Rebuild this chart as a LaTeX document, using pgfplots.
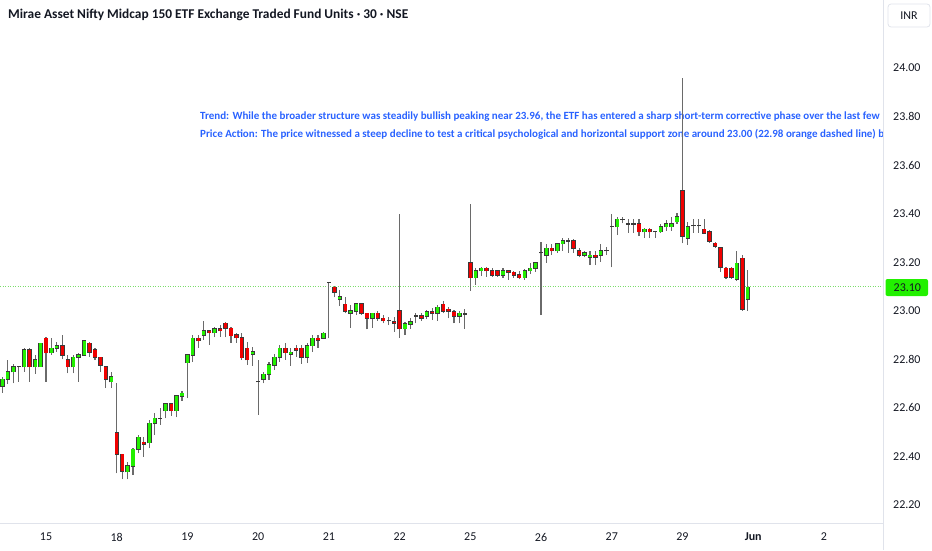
\documentclass[border=0pt]{standalone}
\usepackage{pgfplots}
\pgfplotsset{compat=1.18}
\usepackage{pgfplotstable}
\usepackage{fontspec}
\setmainfont{Carlito}
\definecolor{tvtext}{HTML}{131722}
\definecolor{tvblue}{HTML}{2962FF}
\definecolor{cgreen}{HTML}{22F000}
\definecolor{cred}{HTML}{F00000}
\definecolor{wickc}{HTML}{6A6A6A}
\definecolor{bordc}{HTML}{3A3A3A}
\definecolor{sepc}{HTML}{E0E3EB}
\definecolor{dotg}{HTML}{7CDD6C}
\pgfplotstableread{
k O H L C
-8 22.690 22.729 22.663 22.718
-7 22.718 22.797 22.698 22.749
-6 22.749 22.779 22.701 22.770
-5 22.770 22.773 22.708 22.770
-4 22.770 22.845 22.749 22.838
-3 22.838 22.845 22.708 22.770
-2 22.770 22.818 22.740 22.797
-1 22.770 22.869 22.770 22.866
0 22.886 22.893 22.708 22.827
1 22.827 22.886 22.818 22.845
2 22.845 22.873 22.832 22.856
3 22.856 22.900 22.800 22.818
4 22.797 22.818 22.742 22.770
5 22.770 22.818 22.742 22.808
6 22.808 22.825 22.708 22.818
7 22.818 22.880 22.814 22.877
8 22.866 22.873 22.811 22.829
9 22.838 22.845 22.797 22.808
10 22.808 22.811 22.749 22.777
11 22.770 22.773 22.681 22.718
12 22.708 22.749 22.681 22.729
13 22.498 22.701 22.330 22.409
14 22.409 22.409 22.306 22.340
15 22.337 22.379 22.306 22.361
16 22.361 22.433 22.323 22.429
17 22.429 22.488 22.413 22.479
18 22.458 22.479 22.399 22.451
19 22.457 22.550 22.433 22.536
20 22.536 22.578 22.488 22.557
21 22.557 22.598 22.530 22.557
22 22.589 22.622 22.557 22.616
23 22.616 22.622 22.567 22.589
24 22.589 22.653 22.561 22.649
25 22.649 22.671 22.630 22.660
26 22.787 22.822 22.640 22.818
27 22.818 22.900 22.791 22.887
28 22.887 22.900 22.848 22.877
29 22.900 22.960 22.880 22.918
30 22.918 22.921 22.859 22.910
31 22.910 22.935 22.891 22.927
32 22.927 22.942 22.894 22.918
33 22.948 22.955 22.891 22.928
34 22.928 22.935 22.869 22.898
35 22.900 22.910 22.869 22.889
36 22.889 22.910 22.798 22.807
37 22.846 22.873 22.777 22.798
38 22.822 22.852 22.773 22.832
39 22.708 22.798 22.571 22.708
40 22.718 22.749 22.701 22.739
41 22.739 22.791 22.715 22.777
42 22.777 22.822 22.756 22.808
43 22.808 22.859 22.791 22.846
44 22.846 22.869 22.798 22.828
45 22.821 22.846 22.773 22.829
46 22.846 22.859 22.811 22.839
47 22.846 22.859 22.781 22.808
48 22.808 22.866 22.784 22.857
49 22.857 22.900 22.832 22.887
50 22.887 22.900 22.848 22.880
51 22.887 22.914 22.883 22.907
52 23.116 23.120 22.886 23.116
53 23.096 23.102 23.055 23.078
54 23.047 23.085 23.019 23.057
55 23.026 23.058 22.989 22.999
56 22.989 23.024 22.930 22.999
57 22.999 23.030 22.982 23.028
58 23.028 23.030 22.982 22.989
59 22.989 22.992 22.923 22.969
60 22.969 22.992 22.930 22.989
61 22.989 22.999 22.959 22.969
62 22.969 22.982 22.948 22.959
63 22.959 22.975 22.941 22.959
64 22.955 22.975 22.914 22.948
65 22.999 23.398 22.890 22.927
66 22.927 22.955 22.900 22.945
67 22.945 22.969 22.927 22.955
68 22.978 22.989 22.948 22.978
69 22.978 22.992 22.959 22.969
70 22.978 23.003 22.965 22.996
71 22.996 23.010 22.962 22.989
72 22.989 23.024 22.959 23.014
73 23.026 23.040 22.989 22.999
74 23.006 23.017 22.969 22.999
75 22.996 23.003 22.948 22.978
76 22.978 22.999 22.948 22.989
77 22.987 23.006 22.927 22.987
78 23.198 23.440 23.083 23.137
79 23.137 23.175 23.106 23.165
80 23.165 23.181 23.143 23.175
81 23.175 23.181 23.140 23.165
82 23.165 23.175 23.140 23.147
83 23.165 23.168 23.140 23.147
84 23.147 23.175 23.137 23.165
85 23.165 23.168 23.127 23.158
86 23.158 23.165 23.137 23.147
87 23.147 23.165 23.129 23.137
88 23.137 23.171 23.127 23.165
89 23.165 23.195 23.151 23.175
90 23.175 23.202 23.161 23.198
91 23.239 23.284 22.982 23.239
92 23.229 23.277 23.198 23.257
93 23.257 23.277 23.229 23.247
94 23.247 23.280 23.239 23.277
95 23.277 23.298 23.247 23.287
96 23.287 23.298 23.239 23.287
97 23.287 23.294 23.239 23.257
98 23.247 23.257 23.220 23.229
99 23.229 23.247 23.220 23.239
100 23.220 23.247 23.188 23.229
101 23.229 23.247 23.188 23.220
102 23.229 23.277 23.202 23.247
103 23.247 23.264 23.229 23.247
104 23.347 23.398 23.179 23.347
105 23.347 23.388 23.312 23.377
106 23.377 23.388 23.360 23.377
107 23.358 23.377 23.322 23.358
108 23.358 23.377 23.322 23.358
109 23.358 23.377 23.308 23.326
110 23.326 23.340 23.299 23.336
111 23.336 23.340 23.299 23.326
112 23.326 23.330 23.299 23.326
113 23.326 23.358 23.322 23.347
114 23.347 23.374 23.330 23.358
115 23.347 23.388 23.330 23.358
116 23.367 23.402 23.358 23.388
117 23.495 23.960 23.278 23.308
118 23.299 23.367 23.271 23.347
119 23.350 23.377 23.322 23.350
120 23.350 23.377 23.322 23.350
121 23.336 23.377 23.317 23.319
122 23.326 23.333 23.281 23.288
123 23.278 23.285 23.258 23.267
124 23.258 23.264 23.161 23.179
125 23.175 23.179 23.130 23.138
126 23.175 23.179 23.130 23.138
127 23.130 23.248 23.124 23.196
128 23.216 23.230 23.001 23.006
129 23.047 23.168 23.001 23.097
}\candles
\begin{document}
\begin{tikzpicture}[x=1pt,y=1pt]
\path[use as bounding box] (0,0) rectangle (932,550);
\begin{axis}[
  at={(0pt,27pt)}, anchor=south west,
  width=883pt, height=523pt, scale only axis,
  xmin=-8.456, xmax=153.86, ymin=22.126, ymax=24.280,
  axis line style={draw=none},
  tick style={draw=none},
  major tick length=0pt,
  scaled y ticks=false,
  ytick={22.2,22.4,22.6,22.8,23.0,23.2,23.4,23.6,23.8,24.0},
  yticklabel pos=right,
  /pgf/number format/assume math mode=true,
  yticklabel style={anchor=west, xshift=10pt, inner sep=0pt,
    font=\fontsize{12}{14}\selectfont, text=tvtext,
    /pgf/number format/fixed, /pgf/number format/fixed zerofill,
    /pgf/number format/precision=2},
  xtick={0,13,26,39,52,65,78,91,104,117,130,143},
  xticklabels={15,18,19,20,21,22,25,26,27,29,\textbf{Jun},2},
  xticklabel style={anchor=center, yshift=-14pt, inner sep=0pt,
    font=\fontsize{12}{14}\selectfont, text=tvtext},
  candle/.style={draw=none, mark=none, forget plot,
    error bars/.cd, y dir=plus, y explicit, error mark=none},
]
\node[anchor=west, inner sep=0pt, text=tvblue, font=\bfseries\fontsize{11}{13}\selectfont]
  at (axis cs:28.31,23.80) {Trend: While the broader structure was steadily bullish peaking near 23.96, the ETF has entered a sharp short-term corrective phase over the last few};
\node[anchor=west, inner sep=0pt, text=tvblue, font=\bfseries\fontsize{11}{13}\selectfont]
  at (axis cs:28.31,23.728) {Price Action: The price witnessed a steep decline to test a critical psychological and horizontal support zone around 23.00 (22.98 orange dashed line) b};
\addplot[dotg, line width=0.7pt, dash pattern=on 1pt off 1.5pt, forget plot] coordinates {(-8.456,23.10) (153.86,23.10)};
% wicks
\addplot[candle, error bar style={draw=wickc, line width=1.1pt, solid}]
  table[x=k, y=L, y error expr={\thisrow{H}-\thisrow{L}}] {\candles};
% body borders
\addplot[candle, error bar style={draw=bordc, line width=4.4pt, solid}]
  table[x=k, y expr={min(\thisrow{O},\thisrow{C})-0.0027}, y error expr={abs(\thisrow{C}-\thisrow{O})+0.0054}] {\candles};
% green bodies
\addplot[candle, error bar style={draw=cgreen, line width=3.1pt, solid}]
  table[x=k, y=O, y error expr={max(\thisrow{C}-\thisrow{O},0)}] {\candles};
% red bodies
\addplot[candle, error bar style={draw=cred, line width=3.1pt, solid}]
  table[x=k, y=C, y error expr={max(\thisrow{O}-\thisrow{C},0)}] {\candles};
\end{axis}
\draw[sepc, line width=1pt] (883.5,0) -- (883.5,550);
\draw[sepc, line width=1pt] (0,26.5) -- (883.5,26.5);
\draw[sepc, line width=0.8pt, rounded corners=3pt] (888,523) rectangle (930,546);
\node[text=tvtext, font=\fontsize{12}{14}\selectfont] at (909,534.5) {INR};
\fill[cgreen, rounded corners=2pt] (885.5,254) rectangle (928,271);
\node[anchor=west, inner sep=0pt, text=tvtext, font=\fontsize{12}{14}\selectfont] at (893.5,262.5) {23.10};
\node[anchor=west, inner sep=0pt, text=tvtext, font=\bfseries\fontsize{13.4}{15}\selectfont] at (8,535) {Mirae Asset Nifty Midcap 150 ETF Exchange Traded Fund Units · 30 · NSE};
\end{tikzpicture}
\end{document}
